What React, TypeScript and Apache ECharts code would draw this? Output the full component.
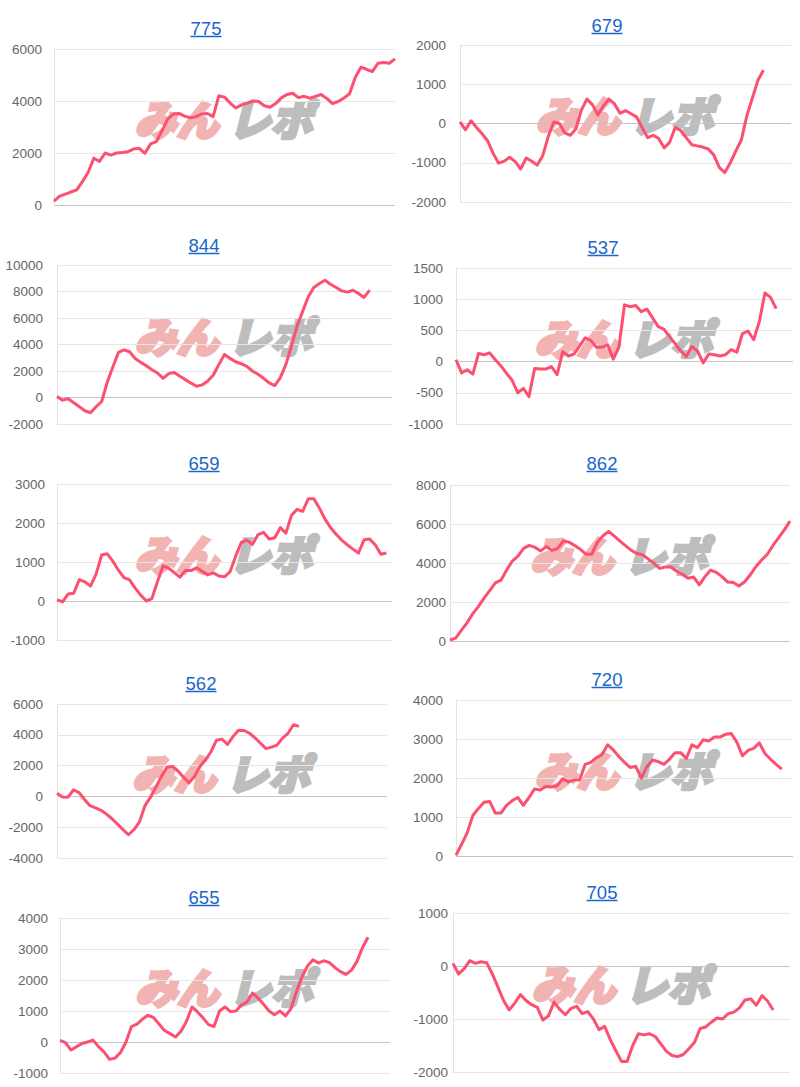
import React, { useEffect, useRef } from "react";
import * as echarts from "echarts";

// ---- data ----
const slotLabels = Array.from({ length: 61 }, (_, i) => String(i));

const titles = ["775", "679", "844", "537", "659", "862", "562", "720", "655", "705"];

const s775 = [150, 340, 420, 500, 580, 900, 1250, 1800, 1680, 2000, 1920, 2000, 2020, 2050, 2150, 2180, 1990, 2350, 2440, 2850, 3300, 3500, 3520, 3420, 3350, 3400, 3500, 3520, 3400, 4200, 4150, 3920, 3730, 3850, 3920, 4000, 3980, 3820, 3760, 3900, 4120, 4250, 4300, 4130, 4180, 4110, 4180, 4250, 4100, 3900, 3980, 4110, 4280, 4900, 5300, 5220, 5130, 5450, 5480, 5450, 5620];
const s679 = [40, -160, 70, -100, -260, -440, -760, -1010, -960, -860, -970, -1160, -880, -960, -1060, -820, -330, 40, 0, -240, -300, -140, 340, 620, 480, 220, 450, 620, 500, 260, 330, 250, 170, -100, -360, -300, -380, -620, -480, -100, -180, -360, -540, -570, -600, -650, -800, -1120, -1250, -1000, -700, -420, 200, 650, 1100, 1360];
const s844 = [80, -200, -100, -400, -700, -1000, -1150, -700, -300, 1150, 2300, 3400, 3600, 3450, 2950, 2650, 2400, 2100, 1850, 1450, 1800, 1880, 1600, 1350, 1080, 850, 950, 1250, 1700, 2500, 3250, 2950, 2700, 2550, 2350, 2000, 1750, 1450, 1100, 900, 1500, 2500, 3900, 5400, 6500, 7600, 8300, 8600, 8850, 8550, 8300, 8050, 7950, 8100, 7850, 7550, 8100];
const s537 = [30, -180, -130, -200, 130, 110, 140, 30, -70, -190, -300, -500, -430, -560, -110, -120, -120, -80, -210, 160, 90, 120, 250, 380, 340, 230, 230, 270, 40, 230, 910, 880, 900, 800, 840, 700, 560, 520, 400, 290, 170, 80, 240, 170, -20, 120, 110, 90, 110, 190, 150, 450, 490, 350, 640, 1100, 1030, 850];
const s659 = [30, -20, 180, 200, 550, 490, 380, 690, 1180, 1210, 1020, 790, 600, 540, 330, 150, 0, 60, 500, 900, 840, 730, 610, 780, 780, 850, 760, 670, 720, 640, 620, 750, 1150, 1500, 1560, 1450, 1700, 1760, 1590, 1620, 1880, 1740, 2200, 2350, 2300, 2620, 2620, 2380, 2100, 1880, 1710, 1560, 1440, 1330, 1230, 1570, 1590, 1440, 1200, 1230];
const s862 = [50, 150, 540, 930, 1400, 1760, 2200, 2580, 2980, 3120, 3640, 4100, 4350, 4750, 4900, 4800, 4620, 4840, 4650, 4750, 5130, 5070, 4900, 4700, 4450, 4450, 5050, 5400, 5620, 5380, 5120, 4880, 4650, 4490, 4420, 4200, 3980, 3720, 3800, 3800, 3580, 3420, 3220, 3280, 2880, 3300, 3640, 3520, 3300, 3020, 3000, 2820, 3040, 3400, 3820, 4150, 4450, 4900, 5300, 5700, 6150];
const s562 = [200, -40, -50, 430, 250, -200, -600, -750, -900, -1150, -1450, -1800, -2160, -2490, -2150, -1650, -600, -50, 620, 1300, 1900, 1950, 1650, 1250, 880, 1300, 1950, 2380, 2900, 3650, 3720, 3380, 3880, 4300, 4280, 4100, 3800, 3450, 3100, 3200, 3330, 3780, 4100, 4650, 4550];
const s720 = [20, 300, 600, 1040, 1220, 1380, 1400, 1100, 1100, 1300, 1420, 1500, 1300, 1500, 1720, 1690, 1780, 1770, 1800, 1980, 1900, 1950, 1950, 2350, 2400, 2520, 2600, 2850, 2720, 2550, 2400, 2270, 2300, 2000, 2290, 2460, 2420, 2350, 2480, 2650, 2650, 2500, 2850, 2780, 2980, 2950, 3050, 3050, 3120, 3140, 2920, 2570, 2710, 2760, 2900, 2630, 2480, 2350, 2230];
const s655 = [50, -20, -260, -150, -50, 0, 60, -150, -320, -560, -520, -340, 0, 500, 580, 740, 860, 790, 580, 370, 270, 160, 350, 670, 1130, 970, 780, 560, 500, 1000, 1130, 980, 1000, 1200, 1290, 1580, 1420, 1220, 1000, 880, 1000, 840, 1080, 1630, 2100, 2450, 2650, 2550, 2620, 2560, 2400, 2270, 2180, 2320, 2600, 3050, 3380];
const s705 = [50, -150, -50, 100, 50, 80, 60, -150, -400, -650, -830, -700, -540, -650, -730, -780, -1020, -940, -680, -820, -920, -800, -760, -900, -860, -1000, -1200, -1140, -1390, -1600, -1800, -1800, -1500, -1280, -1300, -1280, -1330, -1470, -1610, -1690, -1710, -1670, -1560, -1440, -1180, -1150, -1060, -980, -1000, -900, -870, -790, -640, -620, -740, -560, -660, -830];

const seriesValues = [s775, s679, s844, s537, s659, s862, s562, s720, s655, s705];

const yMins = [0, -2000, -2000, -1000, -1000, 0, -4000, 0, -1000, -2000];
const yMaxs = [6000, 2000, 10000, 1500, 3000, 8000, 6000, 4000, 4000, 1000];
const yIntervals = [2000, 1000, 2000, 500, 1000, 2000, 2000, 1000, 1000, 1000];

// ---- layout (pixels) ----
const layout = [
  { left: 54, top: 49, width: 341, height: 156, tx: 206, ty: 28, margin: 12 },
  { left: 460, top: 45, width: 331, height: 157, tx: 607, ty: 25, margin: 14 },
  { left: 57, top: 265, width: 335, height: 159, tx: 204, ty: 245, margin: 14 },
  { left: 456, top: 268, width: 337, height: 156, tx: 603, ty: 247, margin: 13 },
  { left: 57, top: 484, width: 335, height: 156, tx: 204, ty: 463, margin: 12 },
  { left: 450, top: 485, width: 340, height: 156, tx: 602, ty: 463, margin: 4 },
  { left: 57, top: 704, width: 330, height: 154, tx: 201, ty: 683, margin: 14 },
  { left: 456, top: 700, width: 337, height: 156, tx: 607, ty: 679, margin: 13 },
  { left: 60, top: 918, width: 330, height: 155, tx: 204, ty: 897, margin: 12 },
  { left: 453, top: 913, width: 337, height: 159, tx: 602, ty: 892, margin: 5 },
];

const LINE_COLOR = "#fd4f6f";
const LINK_COLOR = "#1a66c9";
const GRID_COLOR = "#e6e6e6";
const ZERO_COLOR = "#c4c4c4";
const FONT = '"Liberation Sans", Arial, Helvetica, sans-serif';
const WM_FONT = 'italic 900 42px "Noto Sans CJK JP"';

function buildOption() {
  const graphic: any[] = [];
  layout.forEach((p, i) => {
    const cx = p.left + p.width / 2;
    const cy = p.top + p.height / 2 - 10;
    graphic.push({
      type: "text",
      z: 0,
      style: {
        text: "みん",
        x: cx - 6,
        y: cy,
        textAlign: "right",
        textVerticalAlign: "middle",
        font: WM_FONT,
        fill: "#f2b3b3",
        stroke: "#f2b3b3",
        lineWidth: 3,
      },
    });
    graphic.push({
      type: "text",
      z: 0,
      style: {
        text: "レポ",
        x: cx + 4,
        y: cy,
        textAlign: "left",
        textVerticalAlign: "middle",
        font: WM_FONT,
        fill: "#bdbdbd",
        stroke: "#bdbdbd",
        lineWidth: 3,
      },
    });
    graphic.push({
      type: "text",
      z: 10,
      style: {
        text: titles[i],
        x: p.tx,
        y: p.ty,
        textAlign: "center",
        textVerticalAlign: "middle",
        font: "18.5px " + FONT,
        fill: LINK_COLOR,
      },
    });
    const halfW = (titles[i].length * 10.3) / 2;
    graphic.push({
      type: "line",
      z: 10,
      shape: { x1: p.tx - halfW, y1: p.ty + 8.5, x2: p.tx + halfW, y2: p.ty + 8.5 },
      style: { stroke: LINK_COLOR, lineWidth: 1.5 },
    });
  });

  return {
    animation: false,
    grid: layout.map((p) => ({ left: p.left, top: p.top, width: p.width, height: p.height })),
    xAxis: layout.map((_, i) => ({
      type: "category",
      gridIndex: i,
      data: slotLabels,
      boundaryGap: false,
      axisLine: { show: false },
      axisTick: { show: false },
      axisLabel: { show: false },
      splitLine: { show: false },
    })),
    yAxis: layout.map((p, i) => {
      const n = Math.round((yMaxs[i] - yMins[i]) / yIntervals[i]) + 1;
      const colors: string[] = [];
      for (let k = 0; k < n; k++) {
        colors.push(yMins[i] + k * yIntervals[i] === 0 ? ZERO_COLOR : GRID_COLOR);
      }
      return {
        type: "value",
        gridIndex: i,
        min: yMins[i],
        max: yMaxs[i],
        interval: yIntervals[i],
        axisLine: { show: true, onZero: false, lineStyle: { color: "#e2e2e2" } },
        axisTick: { show: false },
        axisLabel: {
          margin: p.margin,
          color: "#666",
          fontSize: 13.5,
          fontFamily: FONT,
          formatter: (v: number) => String(v),
        },
        splitLine: { show: true, lineStyle: { color: colors, width: 1 } },
      };
    }),
    series: seriesValues.map((d, i) => ({
      type: "line",
      xAxisIndex: i,
      yAxisIndex: i,
      data: d,
      symbol: "none",
      showSymbol: false,
      z: 5,
      lineStyle: { color: LINE_COLOR, width: 3, join: "round" },
      itemStyle: { color: LINE_COLOR },
    })),
    graphic,
  };
}

export default function App() {
  const ref = useRef<HTMLDivElement | null>(null);
  useEffect(() => {
    if (!ref.current) return;
    const chart = echarts.init(ref.current, undefined, { renderer: "svg" });
    chart.setOption(buildOption() as any);
    return () => chart.dispose();
  }, []);
  return (
    <div
      ref={ref}
      style={{ position: "absolute", left: 0, top: 0, width: 800, height: 1087, background: "#fff" }}
    />
  );
}
